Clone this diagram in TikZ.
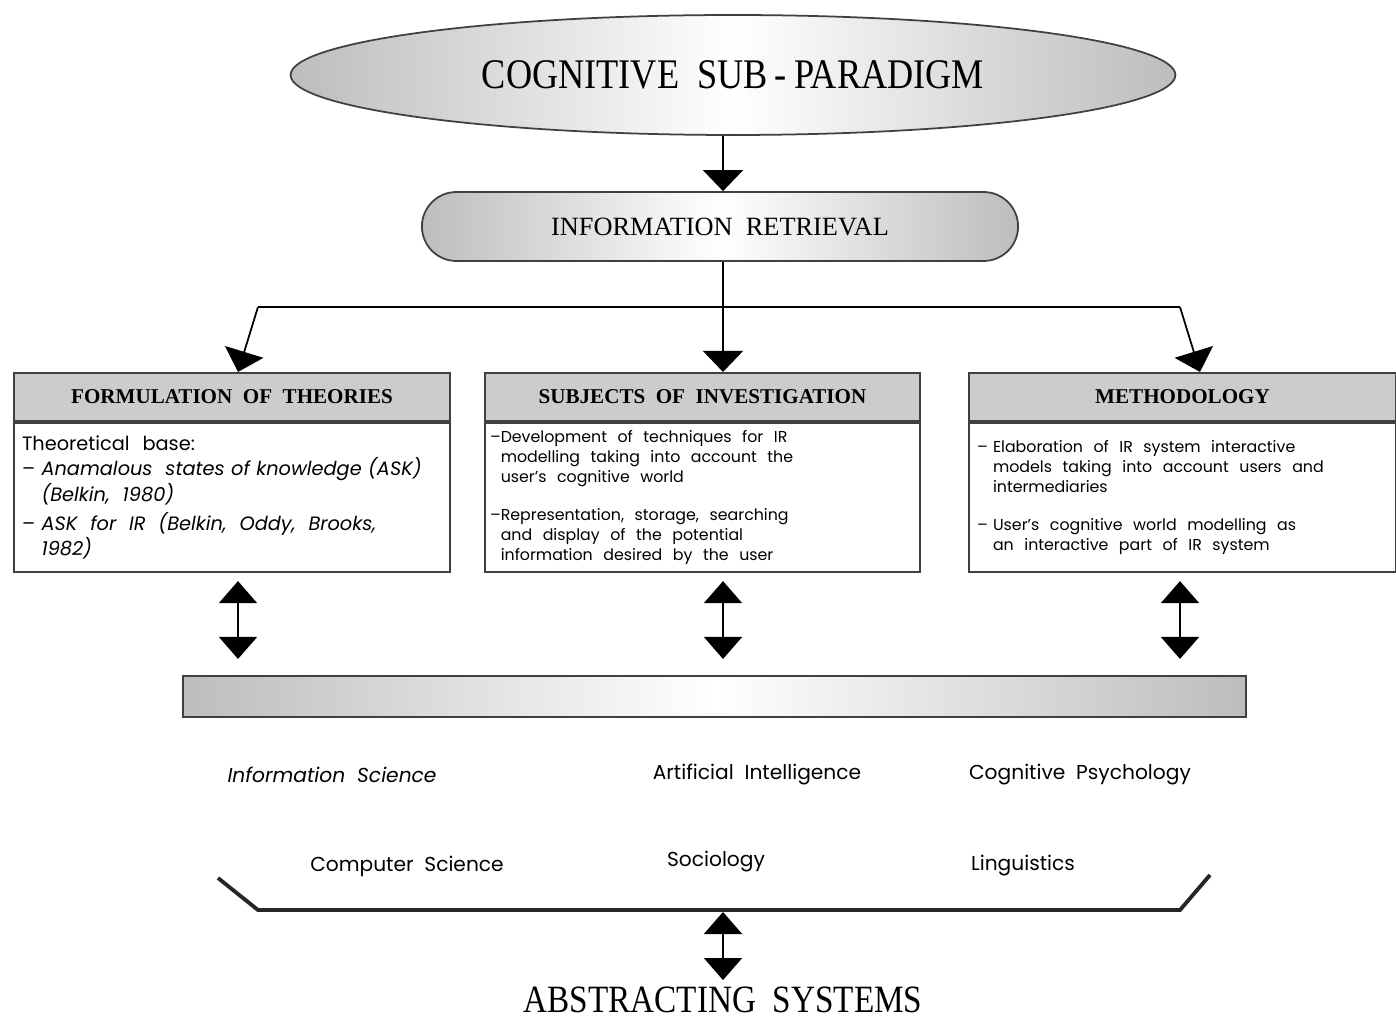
\documentclass[tikz,border=0pt]{standalone}
\usepackage{fontspec}
\setmainfont{Liberation Serif}
\setsansfont{Poppins}
\newfontfamily\narrowserif[FakeStretch=0.86]{Liberation Serif}
\usetikzlibrary{arrows.meta,positioning,shapes.geometric,shapes.misc}
\tikzset{
  arr/.style={-{Triangle[width=0.8cm,length=0.42cm]}, line width=1pt},
  dblarr/.style={{Triangle[width=0.76cm,length=0.44cm]}-{Triangle[width=0.76cm,length=0.44cm]}, line width=1pt},
  greyshade/.style={left color=black!26, right color=black!26, middle color=white},
  head/.style={draw=black!75, line width=1.2pt, fill=black!20,
    minimum height=0.96cm, font=\fontsize{12}{14}\selectfont\bfseries},
  body/.style={draw=black!75, line width=1.2pt, fill=white, anchor=north,
    minimum height=2.98cm, align=left, font=\sffamily\fontsize{9}{11.4}\selectfont},
  field/.style={font=\sffamily\fontsize{11.5}{13}\selectfont},
}
\begin{document}
\begin{tikzpicture}[x=0.02cm,y=-0.02cm]
  \useasboundingbox (0,0) rectangle (1396,1023);
  \coordinate (spine) at (723,0);
  \coordinate (xl) at (238,0);
  \coordinate (xr) at (1180,0);

  % top of the tree
  \node[ellipse, draw=black!75, line width=1pt, greyshade, inner sep=0pt,
    minimum width=17.7cm, minimum height=2.4cm] (csp) at (733,75)
    {\narrowserif\fontsize{24}{26}\selectfont COGNITIVE\ \ SUB\,-\,PARADIGM};
  \node[rounded rectangle, draw=black!75, line width=1pt, greyshade,
    minimum width=12.16cm, minimum height=1.38cm] (ir) at (720,226.5)
    {\fontsize{15}{17}\selectfont INFORMATION\ \ RETRIEVAL};

  % the three boxes
  \node[head, minimum width=8.72cm] (form) at (232,397) {FORMULATION\ \ OF\ \ THEORIES};
  \node[head, minimum width=8.7cm] (subj) at (702.5,397) {SUBJECTS\ \ OF\ \ INVESTIGATION};
  \node[head, minimum width=8.54cm] (meth) at (1182.5,397) {METHODOLOGY};

  \node[body, inner xsep=0.16cm, text width=8.4cm,
    font=\sffamily\fontsize{11}{14.5}\selectfont] (formtxt) at (form.south)
    {Theoretical\ \ base:\\
     -- \textit{Anamalous\ \ states of knowledge (ASK)}\\
     \phantom{-- }\textit{(Belkin,\ \ 1980)}\\[2pt]
     -- \textit{ASK\ \ for\ \ IR\ \ (Belkin,\ \ Oddy,\ \ Brooks,}\\
     \phantom{-- }\textit{1982)}};
  \node[body, inner xsep=0.1cm, text width=8.5cm] (subjtxt) at (subj.south)
    {--Development\ \ of\ \ techniques\ \ for\ \ IR\\
     \phantom{--}modelling\ \ taking\ \ into\ \ account\ \ the\\
     \phantom{--}user's\ \ cognitive\ \ world\\[10pt]
     --Representation,\ \ storage,\ \ searching\\
     \phantom{--}and\ \ display\ \ of\ \ the\ \ potential\\
     \phantom{--}information\ \ desired\ \ by\ \ the\ \ user};
  \node[body, inner xsep=0.16cm, text width=8.22cm] (methtxt) at (meth.south)
    {-- Elaboration\ \ of\ \ IR\ \ system\ \ interactive\\
     \phantom{-- }models\ \ taking\ \ into\ \ account\ \ users\ \ and\\
     \phantom{-- }intermediaries\\[10pt]
     -- User's\ \ cognitive\ \ world\ \ modelling\ \ as\\
     \phantom{-- }an\ \ interactive\ \ part\ \ of\ \ IR\ \ system};

  % connectors of the tree
  \draw[arr] (csp.south -| spine) -- (ir.north -| spine);
  \draw[arr] (ir.south -| spine) -- (subj.north -| spine);
  \coordinate (bl) at (258,307);
  \coordinate (br) at (1180,307);
  \draw[line width=1pt] (bl) -- (br);
  \draw[arr] (bl) -- ([xshift=0.12cm]form.north);
  \draw[arr] (br) -- ([xshift=0.35cm]meth.north);

  % the disciplines bar
  \node[draw=black!75, line width=1.2pt, greyshade, minimum width=21.26cm,
    minimum height=0.82cm] (bar) at (714.5,696.5) {};
  \draw[dblarr] ([yshift=-0.16cm]formtxt.south -| xl) -- ([yshift=0.32cm]bar.north -| xl);
  \draw[dblarr] ([yshift=-0.16cm]subjtxt.south -| spine) -- ([yshift=0.32cm]bar.north -| spine);
  \draw[dblarr] ([yshift=-0.16cm]methtxt.south -| xr) -- ([yshift=0.32cm]bar.north -| xr);

  \node[field, font=\sffamily\itshape\fontsize{11.5}{13}\selectfont] (infsci) at (332,775) {Information\ \ Science};
  \node[field] (ai) at (757,775) {Artificial\ \ Intelligence};
  \node[field] (cogpsy) at (1080,775) {Cognitive\ \ Psychology};
  \node[field] (compsci) at (407,866) {Computer\ \ Science};
  \node[field] (socio) at (716,862) {Sociology};
  \node[field] (ling) at (1023,866) {Linguistics};

  % bracket and the last node
  \coordinate (bkl) at (218,878);
  \coordinate (bkml) at (258,910);
  \coordinate (bkmid) at (723,912);
  \coordinate (bkmr) at (1180,910);
  \coordinate (bkr) at (1210,875);
  \draw[line width=2.2pt, black!85] (bkl) -- (bkml) -- (bkmr) -- (bkr);
  \node[anchor=base, inner sep=0pt] (abs) at (723,1012)
    {\narrowserif\fontsize{22}{24}\selectfont ABSTRACTING\ \ SYSTEMS};
  \draw[dblarr] (bkmid) -- ([yshift=0.12cm]abs.north -| spine);
\end{tikzpicture}
\end{document}
